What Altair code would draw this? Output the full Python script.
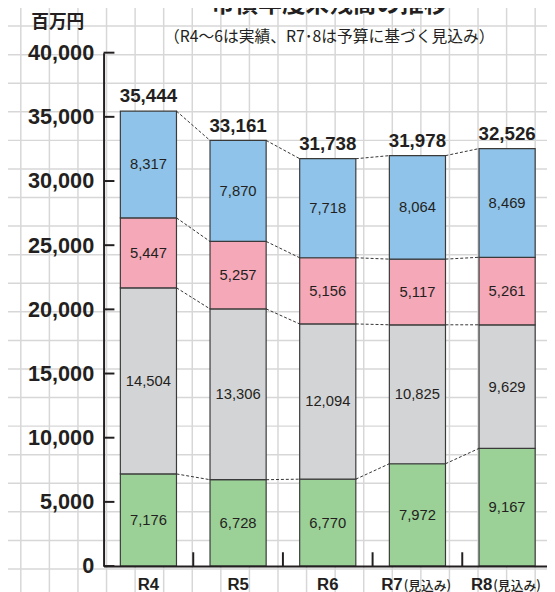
import altair as alt
import pandas as pd

# ---------------- data ----------------
categories = ["R4", "R5", "R6", "R7", "R8"]
label_suffix = ["", "", "", "(見込み)", "(見込み)"]
series_keys = ["s1", "s2", "s3", "s4"]          # bottom -> top
series_colors = ["#9bd197", "#d3d4d6", "#f5a8b8", "#8fc3e9"]
s1_values = [7176, 6728, 6770, 7972, 9167]       # green
s2_values = [14504, 13306, 12094, 10825, 9629]   # gray
s3_values = [5447, 5257, 5156, 5117, 5261]       # pink
s4_values = [8317, 7870, 7718, 8064, 8469]       # blue
totals = [35444, 33161, 31738, 31978, 32526]
y_ticks = [0, 5000, 10000, 15000, 20000, 25000, 30000, 35000, 40000]
x_boundaries = [1, 2, 3, 4]                      # category boundaries (between bands)
grid_cols = list(range(19))
grid_rows = list(range(20))
title_text = "市債年度末残高の推移"
subtitle_text = "（R4～6は実績、R7･8は予算に基づく見込み）"

# ---------------- tables ----------------
series_vals = [s1_values, s2_values, s3_values, s4_values]
rows = []
for ci, cat in enumerate(categories):
    base = 0
    for si, key in enumerate(series_keys):
        v = series_vals[si][ci]
        rows.append({"cat": cat, "series": key, "order": si, "value": v,
                     "y0": base, "y1": base + v, "mid": base + v / 2,
                     "label": f"{v:,}"})
        base += v
bars_df = pd.DataFrame(rows)

conn = []
for ci in range(len(categories) - 1):
    a, b = categories[ci], categories[ci + 1]
    ca, cb = 0, 0
    for si in range(len(series_keys)):
        ca += series_vals[si][ci]
        cb += series_vals[si][ci + 1]
        conn.append({"from_cat": a, "to_cat": b, "v_from": ca, "v_to": cb})
conn_df = pd.DataFrame(conn)

tot_df = pd.DataFrame({"cat": categories, "total": totals,
                       "label": [f"{t:,}" for t in totals]})
lab_df = pd.DataFrame({"cat": categories, "suffix": label_suffix})
lab_df = lab_df[lab_df["suffix"] != ""]
ytick_df = pd.DataFrame({"v": y_ticks})
xtick_df = pd.DataFrame({"b": x_boundaries})
title_df = pd.DataFrame({"t": [title_text]})
subtitle_df = pd.DataFrame({"t": [subtitle_text]})

INK = "#231f20"
NUMFONT = "Liberation Sans"
JPFONT = "Noto Sans CJK JP"

x_scale = alt.Scale(domain=categories, range=[0, 455],
                    paddingInner=0.374, paddingOuter=0.187)
y_scale = alt.Scale(domain=[0, 40000], nice=False, zero=True)

is_proj = "datum.value == 'R7' || datum.value == 'R8'"
x_axis = alt.Axis(title=None, ticks=False, domainColor=INK, domainWidth=2,
                  labelFont=NUMFONT, labelFontSize=17, labelFontWeight="bold",
                  labelColor=INK, labelPadding=11, labelAngle=0, zindex=1,
                  labelAlign={"condition": {"test": is_proj, "value": "right"}, "value": "center"},
                  labelOffset={"condition": {"test": is_proj, "value": -15}, "value": 0})
y_axis = alt.Axis(values=y_ticks, format=",d", ticks=False, grid=False,
                  domainColor=INK, domainWidth=2, labelFont=NUMFONT,
                  labelFontSize=22, labelFontWeight="bold", labelColor=INK,
                  labelPadding=10, zindex=1,
                  title="百万円", titleAngle=0, titleX=-47, titleY=-31,
                  titleAlign="center", titleBaseline="middle",
                  titleFont=JPFONT, titleFontSize=18, titleFontWeight="bold",
                  titleColor=INK)

# ---------------- background graph paper ----------------
grid_v = alt.Chart(pd.DataFrame({"gx": grid_cols})).mark_rule(
    color="#d7d7d7", strokeWidth=1.5
).encode(
    x=alt.X("gx:Q", scale=alt.Scale(domain=[0, 18], range=[-84, 438], nice=False, zero=False), axis=None),
    y=alt.value(-60), y2=alt.value(560),
)
grid_h = alt.Chart(pd.DataFrame({"gy": grid_rows})).mark_rule(
    color="#d7d7d7", strokeWidth=1.5
).encode(
    y=alt.Y("gy:Q", scale=alt.Scale(domain=[0, 19], range=[-27, 524], nice=False, zero=False), axis=None),
    x=alt.value(-110), x2=alt.value(470),
)
grid = alt.layer(grid_v, grid_h)

# ---------------- main chart ----------------
bars = alt.Chart(bars_df).mark_bar(stroke="#3a3a3a", strokeWidth=1.2).encode(
    x=alt.X("cat:N", scale=x_scale, sort=categories, axis=x_axis),
    y=alt.Y("y0:Q", scale=y_scale, axis=y_axis),
    y2="y1:Q",
    color=alt.Color("series:N", scale=alt.Scale(domain=series_keys, range=series_colors), legend=None),
)

connectors = alt.Chart(conn_df).mark_rule(strokeDash=[3, 2], strokeWidth=1, color="#333333").encode(
    x=alt.X("from_cat:N", scale=x_scale, bandPosition=1, axis=x_axis),
    x2=alt.X2("to_cat:N", bandPosition=0),
    y=alt.Y("v_from:Q", scale=y_scale, axis=y_axis),
    y2="v_to:Q",
)

inner = alt.Chart(bars_df).mark_text(font=NUMFONT, fontSize=15, color=INK, baseline="middle").encode(
    x=alt.X("cat:N", scale=x_scale, axis=x_axis),
    y=alt.Y("mid:Q", scale=y_scale, axis=y_axis),
    text="label:N",
)

tot_text = alt.Chart(tot_df).mark_text(font=NUMFONT, fontSize=19, fontWeight="bold",
                                       color=INK, baseline="alphabetic", dy=-9).encode(
    x=alt.X("cat:N", scale=x_scale, axis=x_axis),
    y=alt.Y("total:Q", scale=y_scale, axis=y_axis),
    text="label:N",
)

suffix_text = alt.Chart(lab_df).mark_text(font=JPFONT, fontSize=13, fontWeight=500, color=INK,
                                          align="left", baseline="alphabetic", dx=-14).encode(
    x=alt.X("cat:N", scale=x_scale, axis=x_axis),
    y=alt.value(545),
    text="suffix:N",
)

y_tick_marks = alt.Chart(ytick_df).mark_rule(color=INK, strokeWidth=2).encode(
    y=alt.Y("v:Q", scale=y_scale, axis=y_axis),
    x=alt.value(0), x2=alt.value(11),
)

title_mark = alt.Chart(title_df).mark_text(font=JPFONT, fontSize=24, fontWeight="bold", color=INK,
                                           align="center", baseline="alphabetic").encode(
    x=alt.value(229), y=alt.value(-41), text="t:N")
subtitle_mark = alt.Chart(subtitle_df).mark_text(font=JPFONT, fontSize=16, color=INK,
                                                 align="center", baseline="middle").encode(
    x=alt.value(229), y=alt.value(-16), text="t:N")

main = alt.layer(bars, connectors, inner, tot_text, suffix_text,
                 y_tick_marks, title_mark, subtitle_mark)

# boundary ticks on the x axis: linear scale over the 5 category steps
x_tick_marks = alt.Chart(xtick_df).mark_rule(color=INK, strokeWidth=2).encode(
    x=alt.X("b:Q", scale=alt.Scale(domain=[0, 5], range=[0, 455], nice=False, zero=False), axis=None),
    y=alt.value(507), y2=alt.value(521),
)

chart = alt.layer(grid, main, x_tick_marks).resolve_scale(
    x="independent", y="independent"
).properties(
    width=450, height=521,
    autosize=alt.AutoSizeParams(type="none"),
    padding={"left": 97, "top": 41, "right": 0, "bottom": 22},
    background="white",
).configure_view(stroke=None)

chart.save("out.html", embed_options={"renderer": "svg", "actions": False})
